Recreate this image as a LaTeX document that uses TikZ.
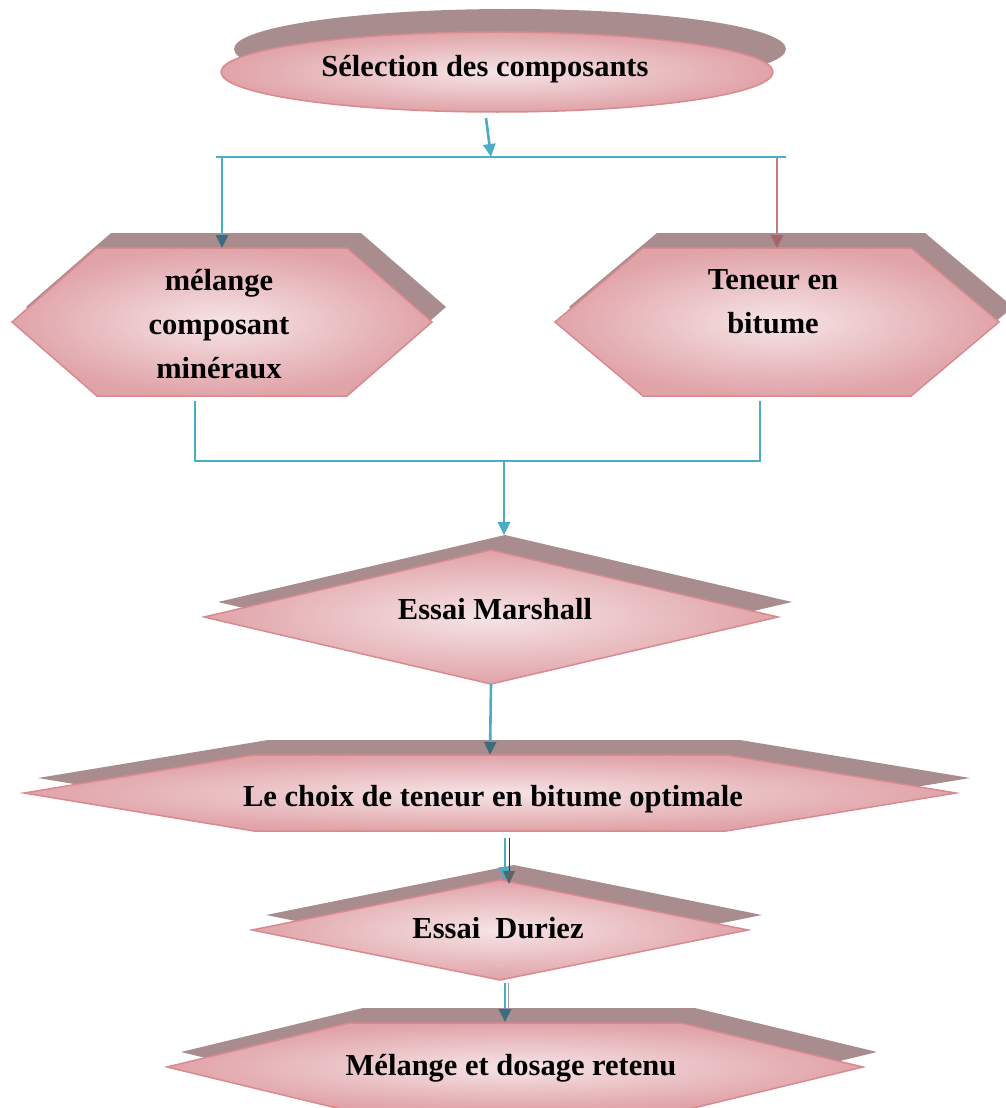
\documentclass[tikz,border=0pt]{standalone}
\usepackage{fontspec}
\setmainfont{Liberation Serif}
\usetikzlibrary{calc}
\usetikzlibrary{arrows.meta}

\definecolor{pinklight}{HTML}{F6E4E6}
\definecolor{pinkdark}{HTML}{E0A3A8}
\definecolor{pinkedge}{HTML}{D98A90}
\definecolor{shadowgrey}{HTML}{A98C8E}
\definecolor{linkblue}{HTML}{4BACC6}
\definecolor{linkrose}{HTML}{C27D80}
\definecolor{tipslate}{HTML}{3F6C7C}
\definecolor{tiprose}{HTML}{A5666A}
\definecolor{linkdark}{HTML}{2F3E44}

\begin{document}
\begin{tikzpicture}[x=1pt, y=-1pt,
  box/.style={draw=pinkedge, line width=1.5pt, inner color=pinklight, outer color=pinkdark},
  backshape/.style={fill=shadowgrey},
  boxtext/.style={font=\bfseries\fontsize{30.5}{44}\selectfont, align=center},
  link/.style={draw=linkblue, line width=2.6pt},
  headed/.style={-{Triangle[width=12pt, length=13pt, color=#1]}},
  headed/.default=linkblue]
\useasboundingbox (0,0) rectangle (1006,1108);
\clip (0,0) rectangle (1006,1108);

% start ellipse
\fill[backshape] (510,49) ellipse [x radius=276, y radius=40];
\filldraw[box] (497,72) ellipse [x radius=276, y radius=40];
\coordinate (sel-s) at (486,118);

% hexagons and diamonds: name/cx/cy/half width/inset/half height
\foreach \n/\cx/\cy/\a/\b/\h in {mel/222/322/210/85/74, ten/777/322/222/88/74,
    mar/491/617/287/287/67, choix/490/793/466/230/38,
    dur/500/930/248/248/50, mdr/515/1067/348/182/44}{
  \fill[backshape, shift={(14,-15)}] (\cx-\a,\cy) -- (\cx-\a+\b,\cy-\h) -- (\cx+\a-\b,\cy-\h)
    -- (\cx+\a,\cy) -- (\cx+\a-\b,\cy+\h) -- (\cx-\a+\b,\cy+\h) -- cycle;
  \filldraw[box] (\cx-\a,\cy) -- (\cx-\a+\b,\cy-\h) -- (\cx+\a-\b,\cy-\h)
    -- (\cx+\a,\cy) -- (\cx+\a-\b,\cy+\h) -- (\cx-\a+\b,\cy+\h) -- cycle;
  \coordinate (\n-n) at (\cx,\cy-\h);
  \coordinate (\n-s) at (\cx,\cy+\h);
  \coordinate (\n-t) at (\cx+14,\cy-\h-15);
}

\node[boxtext] (sel) at (485,69) {Sélection des composants};
\node[boxtext] (mel) at (219,324) {mélange\\composant\\minéraux};
\node[boxtext] (ten) at (773,302) {Teneur en\\bitume};
\node[boxtext] (mar) at (495,609) {Essai Marshall};
\node[boxtext] (choix) at (493,799) {Le choix de teneur en bitume optimale};
\node[boxtext] (dur) at (498,928) {Essai~ Duriez};
\node[boxtext] (mdr) at (511,1068) {Mélange et dosage retenu};

% split towards the two inputs
\coordinate (split) at (491,157);
\coordinate (busL) at (216,157);
\coordinate (busR) at (786,157);
\draw[link, headed] (sel-s) -- (split);
\draw[link] (busL) -- (busR);
\draw[link, headed=tipslate] (busL -| mel-n) -- (mel-n);
\draw[link, draw=linkrose, headed=tiprose] (busR -| ten-n) -- (ten-n);

% join towards Marshall
\coordinate (join) at (504,461);
\draw[link] ($(mel-s)+(-27,5)$) |- (join) -| ($(ten-s)+(-17,5)$);
\draw[link, headed] (join) -- (join |- mar-t);

\draw[link, headed=tipslate] (mar-s) -- (choix-n);

\draw[link, headed] ($(choix-s)+(15,7)$) -- ++(0,42);
\draw[linkdark, line width=1pt, headed=linkdark!80] ($(choix-s)+(19,7)$) -- ++(0,46);

\draw[linkdark!50, line width=1pt] ($(dur-s)+(8,3)$) -- ++(0,36);
\draw[link, headed=tipslate] ($(dur-s)+(5,3)$) -- ++(0,39);
\end{tikzpicture}
\end{document}
